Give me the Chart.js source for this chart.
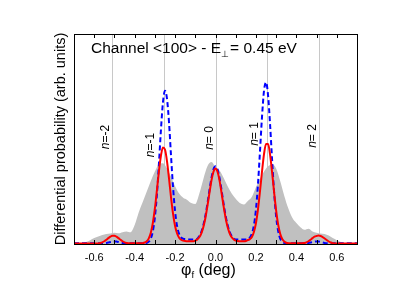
<!DOCTYPE html>
<html>
<head>
<meta charset="utf-8">
<script src="https://cdn.jsdelivr.net/npm/chart.js@4.4.0/dist/chart.umd.min.js"></script>
<style>
    body { margin: 0; background: #fff; }
    .chartbox { width: 415px; height: 294px; }
</style>
</head>
<body>
<div class="chartbox"><canvas id="chart"></canvas></div>
<script>
// angle grid (deg) for the two model curves
let phiFine = [
    -0.70, -0.69, -0.68, -0.67, -0.66, -0.65, -0.64, -0.63, -0.62, -0.61,
    -0.60, -0.59, -0.58, -0.57, -0.56, -0.55, -0.54, -0.53, -0.52, -0.51,
    -0.50, -0.49, -0.48, -0.47, -0.46, -0.45, -0.44, -0.43, -0.42, -0.41,
    -0.40, -0.39, -0.38, -0.37, -0.36, -0.35, -0.34, -0.33, -0.32, -0.31,
    -0.30, -0.29, -0.28, -0.27, -0.26, -0.25, -0.24, -0.23, -0.22, -0.21,
    -0.20, -0.19, -0.18, -0.17, -0.16, -0.15, -0.14, -0.13, -0.12, -0.11,
    -0.10, -0.09, -0.08, -0.07, -0.06, -0.05, -0.04, -0.03, -0.02, -0.01,
    0.00, 0.01, 0.02, 0.03, 0.04, 0.05, 0.06, 0.07, 0.08, 0.09,
    0.10, 0.11, 0.12, 0.13, 0.14, 0.15, 0.16, 0.17, 0.18, 0.19,
    0.20, 0.21, 0.22, 0.23, 0.24, 0.25, 0.26, 0.27, 0.28, 0.29,
    0.30, 0.31, 0.32, 0.33, 0.34, 0.35, 0.36, 0.37, 0.38, 0.39,
    0.40, 0.41, 0.42, 0.43, 0.44, 0.45, 0.46, 0.47, 0.48, 0.49,
    0.50, 0.51, 0.52, 0.53, 0.54, 0.55, 0.56, 0.57, 0.58, 0.59,
    0.60, 0.61, 0.62, 0.63, 0.64, 0.65, 0.66, 0.67, 0.68, 0.69, 0.70
]

// red solid curve
let redCurve = [
    0.2, 0.2, 0.2, 0.2, 0.2, 0.2, 0.2, 0.2, 0.2, 0.2,
    0.2, 0.2, 0.3, 0.5, 0.8, 1.3, 2.0, 2.8, 3.5, 3.9,
    3.9, 3.5, 2.8, 2.0, 1.3, 0.8, 0.5, 0.3, 0.3, 0.3,
    0.3, 0.3, 0.3, 0.3, 0.4, 0.7, 1.3, 2.7, 5.4, 10,
    16.8, 25.4, 34.5, 42, 46, 45, 39.5, 31.2, 22.2, 14.3,
    8.6, 5, 3, 2, 1.6, 1.4, 1.3, 1.3, 1.3, 1.3,
    1.6, 2.2, 3.2, 5.1, 8.1, 12.4, 18, 24.3, 30.2, 34.4,
    36, 34.4, 30.2, 24.3, 18, 12.4, 8.1, 5.1, 3.2, 2.2,
    1.6, 1.4, 1.3, 1.3, 1.3, 1.4, 1.9, 2.3, 3.3, 5.7,
    9.9, 16.4, 25, 34.4, 42.8, 47.6, 47.6, 42.6, 34.1, 24.6,
    15.9, 9.2, 4.9, 2.4, 1.2, 0.6, 0.4, 0.3, 0.3, 0.3,
    0.3, 0.3, 0.3, 0.4, 0.5, 0.8, 1.3, 2.0, 2.8, 3.5,
    3.8, 4.0, 3.8, 3.3, 2.6, 1.9, 1.2, 0.7, 0.4, 0.3,
    0.2, 0.2, 0.2, 0.2, 0.2, 0.2, 0.2, 0.2, 0.2, 0.2, 0.2
]

// blue dashed curve
let blueCurve = [
    0.3, 0.3, 0.3, 0.3, 0.3, 0.3, 0.3, 0.3, 0.3, 0.3,
    0.3, 0.3, 0.3, 0.3, 0.3, 0.35, 0.5, 0.7, 0.95, 1.15,
    1.2, 1.15, 0.95, 0.7, 0.5, 0.35, 0.3, 0.3, 0.3, 0.3,
    0.3, 0.3, 0.3, 0.3, 0.3, 0.35, 0.55, 1.1, 2.6, 6,
    12.6, 23.3, 38, 54.2, 67.4, 73, 69.2, 58, 42, 27,
    15.6, 8.5, 4.8, 3.1, 2.5, 2.3, 2.2, 2.2, 2.2, 2.2,
    2.2, 2.5, 3.8, 5.8, 9, 13.5, 19.2, 25.6, 31.4, 35.6,
    37, 35.6, 31.4, 25.6, 19.2, 13.5, 9, 5.8, 3.8, 2.5,
    2.2, 2.2, 2.2, 2.2, 2.2, 2.2, 2.4, 3.1, 4.9, 8.9,
    16.3, 28.3, 44, 60.4, 73, 77, 70.8, 56.9, 40, 24.5,
    13.1, 6.2, 2.6, 1.1, 0.55, 0.35, 0.3, 0.3, 0.3, 0.3,
    0.3, 0.3, 0.3, 0.3, 0.3, 0.35, 0.5, 0.7, 0.95, 1.15,
    1.2, 1.15, 0.95, 0.7, 0.5, 0.35, 0.3, 0.3, 0.3, 0.3,
    0.3, 0.3, 0.3, 0.3, 0.3, 0.3, 0.3, 0.3, 0.3, 0.3, 0.3
]

// grey filled distribution
let phiCoarse = [
    -0.70, -0.68, -0.66, -0.64, -0.62, -0.60, -0.58, -0.56, -0.54, -0.52,
    -0.50, -0.48, -0.46, -0.44, -0.42, -0.40, -0.38, -0.36, -0.34, -0.32,
    -0.30, -0.28, -0.26, -0.24, -0.22, -0.20, -0.18, -0.16, -0.14, -0.12,
    -0.10, -0.08, -0.06, -0.04, -0.02, 0.00, 0.02, 0.04, 0.06, 0.08,
    0.10, 0.12, 0.14, 0.16, 0.18, 0.20, 0.22, 0.24, 0.26, 0.28,
    0.30, 0.32, 0.34, 0.36, 0.38, 0.40, 0.42, 0.44, 0.46, 0.48,
    0.50, 0.52, 0.54, 0.56, 0.58, 0.60, 0.62, 0.64, 0.66, 0.68, 0.70
]
let greyArea = [
    0, 0.1, 0.4, 1.0, 1.8, 2.8, 3.6, 4.3, 4.8, 5.0,
    5.3, 5.1, 5.6, 6.0, 5.6, 9, 15, 20, 25, 30,
    34.5, 38, 38.5, 36, 32, 27.5, 24, 22, 21, 19.5,
    19, 24, 31, 37, 39, 36.5, 35, 31.5, 27.5, 24,
    21.5, 19.5, 18.8, 20.5, 22.5, 27, 31, 34.5, 37, 37.8,
    36, 30, 23, 17, 12.5, 10, 8, 6.8, 7.3, 6,
    5.4, 5, 4.8, 4, 2.8, 1.8, 1, 0.4, 0.2, 0.1, 0
]

// diffraction orders
let orderPos = [-0.512, -0.256, 0, 0.256, 0.512]
let orderText = ['=-2', '=-1', '= 0', '= 1', '= 2']
let orderShift = [6, 13, 6, 13, 6]
let orderMid = [137, 145, 138, 134, 136]

const FONT = '"Liberation Sans", Arial, sans-serif'

function toPoints(xs, ys) {
    return xs.map((x, i) => ({ x: x, y: ys[i] }))
}

// draws text pieces side by side, a piece may be shifted down (subscript)
function drawPieces(ctx, x, y, pieces) {
    pieces.forEach(p => {
        ctx.font = p.font
        ctx.fillText(p.text, x, y + (p.dy || 0))
        x += ctx.measureText(p.text).width + (p.gap || 0)
    })
}

const decorations = {
    id: 'decorations',
    beforeDatasetsDraw(chart) {
        let ctx = chart.ctx
        let area = chart.chartArea
        let xs = chart.scales.x
        ctx.save()
        ctx.strokeStyle = '#c8c8c8'
        ctx.lineWidth = 1
        orderPos.forEach(v => {
            let px = Math.round(xs.getPixelForValue(v)) + 0.5
            ctx.beginPath()
            ctx.moveTo(px, area.top)
            ctx.lineTo(px, area.bottom)
            ctx.stroke()
        })
        ctx.restore()
    },
    afterDatasetsDraw(chart) {
        let ctx = chart.ctx
        let area = chart.chartArea
        let xs = chart.scales.x
        ctx.save()

        // frame
        ctx.strokeStyle = '#000'
        ctx.lineWidth = 1
        ctx.strokeRect(Math.round(area.left) + 0.5, Math.round(area.top) + 0.5,
            Math.round(area.right - area.left), Math.round(area.bottom - area.top))

        // inward ticks, top and bottom
        xs.ticks.forEach(t => {
            let px = Math.round(xs.getPixelForValue(t.value)) + 0.5
            ctx.beginPath()
            ctx.moveTo(px, area.bottom)
            ctx.lineTo(px, area.bottom - 4)
            ctx.moveTo(px, area.top)
            ctx.lineTo(px, area.top + 4)
            ctx.stroke()
        })

        ctx.fillStyle = '#000'
        ctx.textBaseline = 'alphabetic'
        ctx.textAlign = 'left'

        // title with subscript
        drawPieces(ctx, 91, 53, [
            { text: 'Channel <100> - E', font: '15.5px ' + FONT },
            { text: '\u22A5', font: '9px ' + FONT, dy: 4, gap: 1 },
            { text: '= 0.45 eV', font: '15.5px ' + FONT }
        ])

        // x axis title
        drawPieces(ctx, 181, 275, [
            { text: '\u03C6', font: '16px ' + FONT },
            { text: 'f', font: '9.5px ' + FONT, dy: 3 },
            { text: ' (deg)', font: '16px ' + FONT }
        ])

        // order labels, rotated
        orderPos.forEach((v, i) => {
            let px = xs.getPixelForValue(v) - orderShift[i]
            ctx.save()
            ctx.translate(px, orderMid[i])
            ctx.rotate(-Math.PI / 2)
            ctx.textBaseline = 'middle'
            ctx.font = 'italic 12px ' + FONT
            let w1 = ctx.measureText('n').width
            ctx.font = '12px ' + FONT
            let w2 = ctx.measureText(orderText[i]).width
            let start = -(w1 + w2) / 2
            ctx.font = 'italic 12px ' + FONT
            ctx.fillText('n', start, 0)
            ctx.font = '12px ' + FONT
            ctx.fillText(orderText[i], start + w1, 0)
            ctx.restore()
        })
        ctx.restore()
    }
}

let chart = new Chart(
    document.querySelector('#chart'),
    {
        type: 'line',
        data: {
            datasets: [
                {
                    label: 'grey',
                    data: toPoints(phiCoarse, greyArea),
                    backgroundColor: '#c0c0c0',
                    borderWidth: 0,
                    pointRadius: 0,
                    fill: 'origin',
                    cubicInterpolationMode: 'monotone',
                    order: 3
                },
                {
                    label: 'blue',
                    data: toPoints(phiFine, blueCurve),
                    borderColor: '#0000ff',
                    borderWidth: 2,
                    borderDash: [5, 3],
                    pointRadius: 0,
                    fill: false,
                    cubicInterpolationMode: 'monotone',
                    order: 2
                },
                {
                    label: 'red',
                    data: toPoints(phiFine, redCurve),
                    borderColor: '#ff0000',
                    borderWidth: 2,
                    pointRadius: 0,
                    fill: false,
                    cubicInterpolationMode: 'monotone',
                    order: 1
                }
            ]
        },
        options: {
            responsive: true,
            maintainAspectRatio: false,
            animation: false,
            devicePixelRatio: 1,
            layout: { padding: { left: 52, right: 58, top: 34, bottom: 0 } },
            plugins: {
                legend: { display: false },
                tooltip: { enabled: false }
            },
            scales: {
                x: {
                    type: 'linear',
                    min: -0.7,
                    max: 0.7,
                    grid: { display: false, drawTicks: false },
                    border: { display: false },
                    ticks: {
                        stepSize: 0.1,
                        autoSkip: false,
                        maxRotation: 0,
                        padding: 7,
                        color: '#000',
                        font: { family: FONT, size: 11 },
                        callback: v => Math.round(v * 10) % 2 === 0 ? v.toFixed(1) : ''
                    },
                    afterFit: s => { s.height = 50 }
                },
                y: {
                    min: 0,
                    max: 100,
                    grid: { display: false, drawTicks: false },
                    border: { display: false },
                    ticks: { display: false },
                    title: {
                        display: true,
                        text: 'Differential probability (arb. units)',
                        color: '#000',
                        font: { family: FONT, size: 14.5 },
                        padding: 0
                    },
                    afterFit: s => { s.width = 22 }
                }
            }
        },
        plugins: [decorations]
    }
)
</script>
</body>
</html>
